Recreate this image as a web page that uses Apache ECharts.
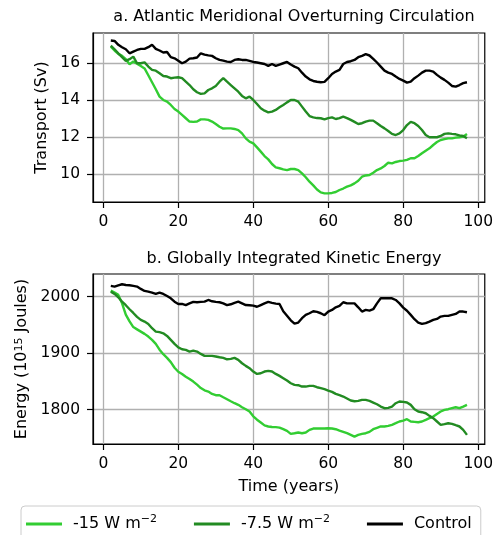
<!DOCTYPE html>
<html>
<head>
<meta charset="utf-8">
<script src="https://cdn.jsdelivr.net/npm/echarts@6/dist/echarts.min.js"></script>
<style>
  html, body { margin: 0; padding: 0; background: #fff; }
  #chart { width: 496px; height: 535px; }
</style>
</head>
<body>
<div id="chart"></div>
<script>
// Model years sampled in both panels
const years = [2,3,4,5,6,7,8,9,10,11,12,13,14,15,16,17,18,19,20,21,22,23,24,25,26,27,28,29,30,31,32,33,34,35,36,37,38,39,40,41,42,43,44,45,46,47,48,49,50,51,52,53,54,55,56,57,58,59,60,61,62,63,64,65,66,67,68,69,70,71,72,73,74,75,76,77,78,79,80,81,82,83,84,85,86,87,88,89,90,91,92,93,94,95,96,97];

// Panel a: AMOC transport (Sv)
const amocStrong = [16.9,16.69,16.51,16.4,16.22,15.95,16.09,15.98,15.85,15.72,15.35,14.97,14.59,14.19,14.01,13.92,13.74,13.52,13.38,13.2,13.02,12.84,12.82,12.84,12.96,12.96,12.93,12.84,12.71,12.56,12.46,12.47,12.47,12.44,12.38,12.2,11.93,11.75,11.66,11.44,11.21,10.97,10.79,10.54,10.36,10.31,10.25,10.21,10.27,10.27,10.21,10.03,9.82,9.58,9.38,9.16,9.0,8.95,8.95,8.97,9.02,9.13,9.21,9.31,9.38,9.49,9.63,9.85,9.92,9.94,10.07,10.21,10.3,10.43,10.61,10.57,10.65,10.7,10.72,10.76,10.85,10.85,10.97,11.12,11.26,11.39,11.57,11.73,11.84,11.89,11.93,11.93,11.97,11.99,12.02,12.17];
const amocWeak = [16.96,16.76,16.54,16.33,16.13,16.22,16.36,16.0,16.0,16.05,15.82,15.64,15.6,15.46,15.31,15.28,15.19,15.22,15.24,15.19,15.0,14.82,14.59,14.43,14.34,14.37,14.55,14.64,14.77,15.0,15.19,15.0,14.82,14.64,14.46,14.23,14.1,14.19,14.01,13.79,13.56,13.43,13.34,13.38,13.47,13.61,13.74,13.88,14.01,14.01,13.92,13.65,13.38,13.14,13.07,13.03,13.02,12.96,13.03,13.07,12.98,13.03,13.11,13.03,12.93,12.82,12.71,12.75,12.84,12.89,12.89,12.75,12.6,12.47,12.33,12.17,12.11,12.2,12.38,12.65,12.82,12.75,12.6,12.38,12.11,11.99,11.99,11.99,12.06,12.17,12.2,12.17,12.15,12.09,12.06,11.93];
const amocControl = [17.23,17.21,17.0,16.87,16.76,16.54,16.63,16.72,16.78,16.78,16.87,17.0,16.78,16.69,16.58,16.61,16.33,16.27,16.14,16.0,16.09,16.25,16.27,16.31,16.54,16.47,16.43,16.4,16.27,16.18,16.14,16.09,16.07,16.18,16.22,16.18,16.18,16.13,16.07,16.04,16.0,15.96,15.86,15.96,15.86,15.93,16.0,16.07,15.93,15.82,15.73,15.49,15.28,15.13,15.04,15.0,14.97,14.99,15.19,15.42,15.55,15.64,15.96,16.07,16.11,16.18,16.33,16.4,16.49,16.42,16.24,16.04,15.82,15.6,15.49,15.42,15.28,15.15,15.06,14.95,15.0,15.19,15.33,15.49,15.6,15.6,15.55,15.37,15.22,15.1,14.95,14.77,14.73,14.82,14.92,14.97];

// Panel b: globally integrated kinetic energy (10^15 J)
const keStrong = [2010.6,2007,2003,1988.2,1968,1956,1946,1942,1938,1934,1929.2,1923.3,1916.2,1906,1898,1891.5,1884,1874,1867,1863,1858,1854,1849.5,1844,1838,1834,1831.9,1827.7,1825.4,1825.4,1821.8,1818.3,1814.7,1811.2,1808.3,1804.1,1800.6,1796.5,1788,1782,1777,1772,1770,1769,1768.8,1768,1765.2,1762.2,1757,1758.1,1759.3,1758.1,1759.3,1764,1766.4,1766.4,1766.4,1766.4,1767,1766.4,1765.2,1762.8,1760.5,1758.1,1755.2,1752.2,1755.2,1757,1758.1,1760.5,1765.2,1767.6,1770,1770,1771.1,1772.9,1775.8,1778.8,1780.5,1782.9,1778.8,1778.2,1777.6,1778.8,1781.7,1784.7,1787.6,1792.3,1796.5,1799.4,1800.6,1802.4,1804.1,1802.4,1805.3,1808.3];
const keWeak = [2008.8,2004.7,1998.8,1991,1984.7,1977.6,1971,1964,1958.7,1955.8,1951.6,1944,1938,1937,1935,1930.4,1923.3,1916.2,1910,1906.8,1905.6,1902.7,1904.4,1902.7,1898.5,1895,1895,1895,1894,1892.6,1891.4,1889,1889.7,1891.4,1888,1882,1877.3,1873.2,1867.3,1863.1,1864.3,1867.3,1868.4,1867.3,1863.1,1859.6,1855.5,1851.3,1846.6,1843.7,1843.1,1840.7,1840.7,1841.9,1841.9,1839.5,1837.8,1836,1833.6,1831.3,1827.7,1825.4,1823,1819.5,1816,1814.7,1815.3,1817.1,1817.1,1815.3,1812.4,1809.4,1805.3,1802.4,1803,1805.3,1811.2,1814.2,1813.6,1812.4,1808.3,1800.6,1796.5,1795.3,1793.5,1788.8,1784.7,1778.8,1772.9,1774.1,1775.8,1774.7,1772.3,1770,1764,1755.2];
const keControl = [2018.9,2017.7,2020,2021.8,2020.6,2020,2018.9,2017.7,2013.6,2010,2008.8,2007,2004.7,2007,2004.7,2001,1997,1991,1987,1987,1985,1988,1990.6,1990,1990.6,1991,1994,1991.7,1990.6,1990,1988,1985,1986.4,1989,1991,1988,1985,1984.7,1984,1982,1985,1988,1990.6,1989,1987.6,1987,1974,1966,1958,1952,1954,1961.7,1967.6,1970.5,1974,1972.9,1970.5,1967,1973.5,1976.4,1981,1983.5,1990,1988,1988,1988,1981,1973.5,1976.4,1975.2,1977.6,1988,1997,1997,1997,1997,1994,1988,1980.5,1975,1967.6,1960,1954,1951.6,1953,1955.8,1958.7,1960.5,1964.6,1965.8,1965.8,1967.6,1969.3,1973.5,1973.5,1972.3];

// Axis ticks
const xTicks = [0, 20, 40, 60, 80, 100];
const amocTicks = [10, 12, 14, 16];
const keTicks = [1800, 1900, 2000];

const seriesNames = ['-15 W m-2', '-7.5 W m-2', 'Control'];
const legendText = {
  '-15 W m-2': '-15 W m{sup|\u22122}',
  '-7.5 W m-2': '-7.5 W m{sup|\u22122}',
  'Control': 'Control'
};
const colors = ['#32cd32', '#228b22', '#000000'];

const FONT = 'DejaVu Sans';

function pairs(vals) {
  return years.map((y, i) => [y, vals[i]]);
}

function plainNumber(v) { return String(v); }

function xAxisFor(gi) {
  return {
    type: 'value', gridIndex: gi, min: -2.75, max: 101.75,
    name: gi === 1 ? 'Time (years)' : '',
    nameLocation: 'middle', nameGap: 35,
    nameTextStyle: { fontSize: 16, color: '#000', fontFamily: FONT },
    axisLine: { show: true, onZero: false, lineStyle: { color: '#000', width: 1.2 } },
    axisTick: { show: true, length: 6, customValues: xTicks, lineStyle: { color: '#000', width: 1.2 } },
    axisLabel: { customValues: xTicks, margin: 12, fontSize: 15.5, color: '#000', fontFamily: FONT, formatter: plainNumber },
    splitLine: { show: true, lineStyle: { color: '#b0b0b0', width: 1.3 } }
  };
}

function yAxisFor(gi, min, max, ticks, name, rich) {
  return {
    type: 'value', gridIndex: gi, min: min, max: max,
    name: name, nameLocation: 'middle', nameGap: 42, nameRotate: 90,
    nameTextStyle: { fontSize: 16, color: '#000', fontFamily: FONT, rich: rich },
    axisLine: { show: true, onZero: false, lineStyle: { color: '#000', width: 1.2 } },
    axisTick: { show: true, length: 6, customValues: ticks, lineStyle: { color: '#000', width: 1.2 } },
    axisLabel: { customValues: ticks, margin: 13, fontSize: 15.5, color: '#000', fontFamily: FONT, formatter: plainNumber },
    splitLine: { show: true, lineStyle: { color: '#b0b0b0', width: 1.3 } }
  };
}

const supRich = { sup: { fontSize: 11, verticalAlign: 'top', fontFamily: FONT, color: '#000' } };

const panelA = [amocStrong, amocWeak, amocControl];
const panelB = [keStrong, keWeak, keControl];
const series = [];
[panelA, panelB].forEach((panel, gi) => {
  panel.forEach((vals, k) => {
    series.push({
      name: seriesNames[k], type: 'line', xAxisIndex: gi, yAxisIndex: gi,
      data: pairs(vals), symbol: 'none', showSymbol: false,
      lineStyle: { color: colors[k], width: 2.4 }, itemStyle: { color: colors[k] },
      z: 2 + k
    });
  });
});

const chart = echarts.init(document.getElementById('chart'), null, { renderer: 'canvas' });
chart.setOption({
  animation: false,
  backgroundColor: '#fff',
  title: [
    { text: 'a. Atlantic Meridional Overturning Circulation', left: 289, top: 4, textAlign: 'center',
      textStyle: { fontSize: 16, fontWeight: 'normal', color: '#000', fontFamily: FONT } },
    { text: 'b. Globally Integrated Kinetic Energy', left: 289, top: 246, textAlign: 'center',
      textStyle: { fontSize: 16, fontWeight: 'normal', color: '#000', fontFamily: FONT } }
  ],
  grid: [
    { left: 93, top: 33, width: 392, height: 169, show: true, borderColor: '#000', borderWidth: 1.2, backgroundColor: 'transparent' },
    { left: 93, top: 274, width: 392, height: 170, show: true, borderColor: '#000', borderWidth: 1.2, backgroundColor: 'transparent' }
  ],
  xAxis: [xAxisFor(0), xAxisFor(1)],
  yAxis: [
    yAxisFor(0, 8.48, 17.64, amocTicks, 'Transport (Sv)', supRich),
    yAxisFor(1, 1739, 2040, keTicks, 'Energy (10{sup|15} Joules)', supRich)
  ],
  legend: {
    data: seriesNames,
    left: 21, top: 506,
    padding: [8, 9, 8, 5],
    itemGap: 37, itemWidth: 36, itemHeight: 3,
    icon: 'rect',
    borderColor: '#cccccc', borderWidth: 1, borderRadius: 4,
    backgroundColor: '#fff',
    formatter: function (name) { return legendText[name]; },
    textStyle: { fontSize: 16, color: '#000', fontFamily: FONT, padding: [0, 0, 0, 6], lineHeight: 20, rich: supRich }
  },
  series: series
});
</script>
</body>
</html>
